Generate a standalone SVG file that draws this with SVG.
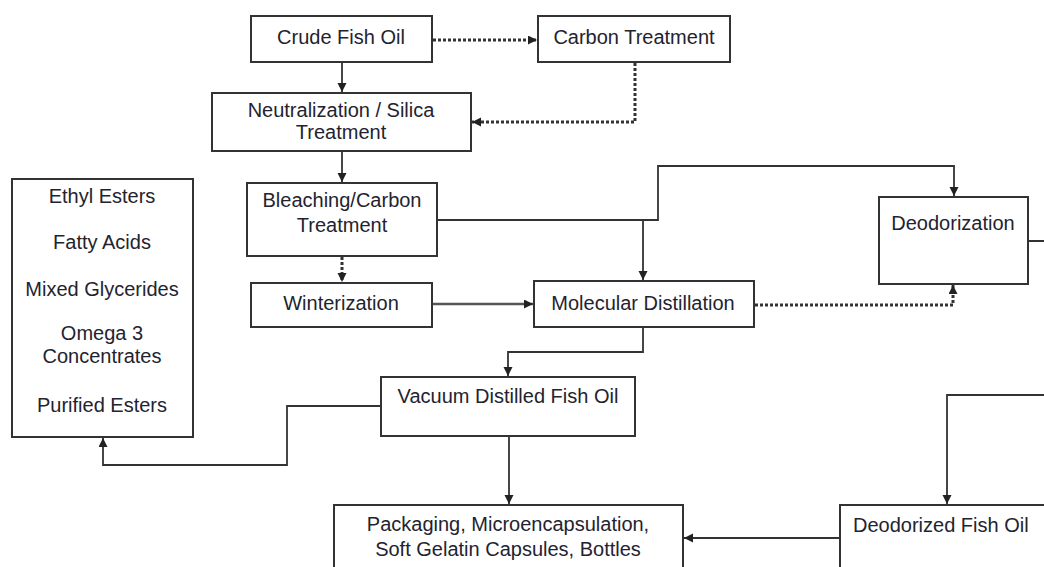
<svg xmlns="http://www.w3.org/2000/svg" width="1044" height="567" viewBox="0 0 1044 567">
<style>
.box{fill:#fff;stroke:#333;stroke-width:2}
.t{font-family:"Liberation Sans",Arial,sans-serif;font-size:20px;fill:#23232f;text-anchor:middle}
.c{fill:none;stroke:#333;stroke-width:1.8}
.d{fill:none;stroke:#333;stroke-width:3;stroke-dasharray:3 2}
.w{fill:none;stroke:#555;stroke-width:2.6}
</style>
<defs>
<marker id="ah" markerUnits="userSpaceOnUse" markerWidth="10" markerHeight="10" refX="9" refY="4.5" orient="auto">
<path d="M0,0 L9,4.5 L0,9 z" fill="#222"/>
</marker>
</defs>
<rect width="1044" height="567" fill="#fff"/>
<g id="connectors">
<path class="c" d="M342,62 V92" marker-end="url(#ah)"/>
<path class="d" d="M433,40 H537" marker-end="url(#ah)"/>
<path class="d" d="M635,63 V122 H472" marker-end="url(#ah)"/>
<path class="c" d="M342,151 V182" marker-end="url(#ah)"/>
<path class="d" d="M342,257 V282" marker-end="url(#ah)"/>
<path class="c" d="M437,220 H658 V166 H954 V196" marker-end="url(#ah)"/>
<path class="c" d="M643,220 V280" marker-end="url(#ah)"/>
<path class="w" d="M432,304 H533" marker-end="url(#ah)"/>
<path class="d" d="M755,305 H953 V285" marker-end="url(#ah)"/>
<path class="c" d="M643,327 V352 H508 V376" marker-end="url(#ah)"/>
<path class="c" d="M381,406 H287 V465 H103 V438" marker-end="url(#ah)"/>
<path class="c" d="M509,436 V504" marker-end="url(#ah)"/>
<path class="c" d="M1028,241 H1060 V395 H947 V504" marker-end="url(#ah)"/>
<path class="c" d="M840,538 H684" marker-end="url(#ah)"/>
</g>
<g id="crude"><rect class="box" x="251" y="16" width="181" height="46"/><text class="t" x="341" y="44">Crude Fish Oil</text></g>
<g id="carbon"><rect class="box" x="538" y="16" width="192" height="46"/><text class="t" x="634" y="44">Carbon Treatment</text></g>
<g id="neutral"><rect class="box" x="212" y="93" width="259" height="58"/><text class="t" x="341" y="117">Neutralization / Silica</text><text class="t" x="341" y="139">Treatment</text></g>
<g id="bleaching"><rect class="box" x="247" y="183" width="190" height="73"/><text class="t" x="342" y="207">Bleaching/Carbon</text><text class="t" x="342" y="232">Treatment</text></g>
<g id="winter"><rect class="box" x="251" y="283" width="181" height="44"/><text class="t" x="341" y="310">Winterization</text></g>
<g id="molecular"><rect class="box" x="534" y="281" width="220" height="46"/><text class="t" x="643" y="310">Molecular Distillation</text></g>
<g id="deodorization"><rect class="box" x="879" y="197" width="149" height="87"/><text class="t" x="953" y="230">Deodorization</text></g>
<g id="products"><rect class="box" x="12" y="179" width="181" height="258"/>
<text class="t" x="102" y="203">Ethyl Esters</text>
<text class="t" x="102" y="249">Fatty Acids</text>
<text class="t" x="102" y="296">Mixed Glycerides</text>
<text class="t" x="102" y="340">Omega 3</text>
<text class="t" x="102" y="363">Concentrates</text>
<text class="t" x="102" y="412">Purified Esters</text></g>
<g id="vacuum"><rect class="box" x="381" y="377" width="254" height="59"/><text class="t" x="508" y="403">Vacuum Distilled Fish Oil</text></g>
<g id="packaging"><rect class="box" x="334" y="505" width="349" height="80"/><text class="t" x="508" y="531">Packaging, Microencapsulation,</text><text class="t" x="508" y="556">Soft Gelatin Capsules, Bottles</text></g>
<g id="deodorized"><rect class="box" x="840" y="505" width="230" height="80"/><text class="t" x="853" y="532" style="text-anchor:start">Deodorized Fish Oil</text></g>
</svg>
